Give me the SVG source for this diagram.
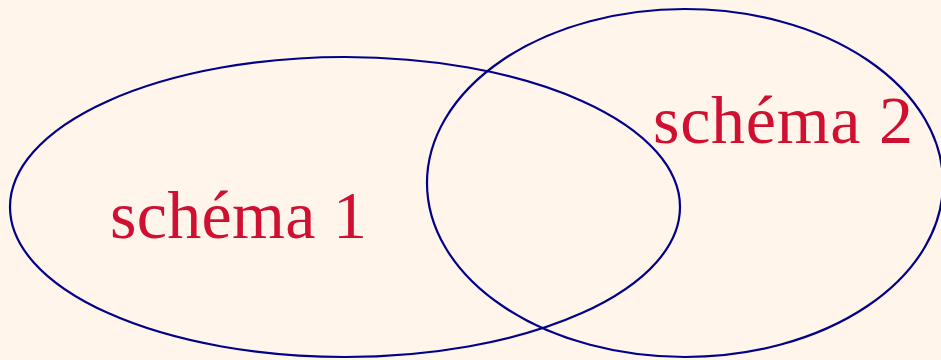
<svg xmlns="http://www.w3.org/2000/svg" width="941" height="360" viewBox="0 0 941 360">
<style>
.set{fill:none;stroke:#00008b;stroke-width:2.2}
.lbl{font-family:"Liberation Serif",serif;font-size:68px;fill:#d01030}
</style>
<rect width="941" height="360" fill="#fff5ea"/>
<g id="schema1">
<ellipse class="set" cx="345" cy="207" rx="335" ry="150"/>
<text class="lbl" x="110" y="238" textLength="257">schéma 1</text>
</g>
<g id="schema2">
<ellipse class="set" cx="685" cy="183" rx="258" ry="174"/>
<text class="lbl" x="653" y="143" textLength="260">schéma 2</text>
</g>
<g id="connectors"></g>
</svg>
